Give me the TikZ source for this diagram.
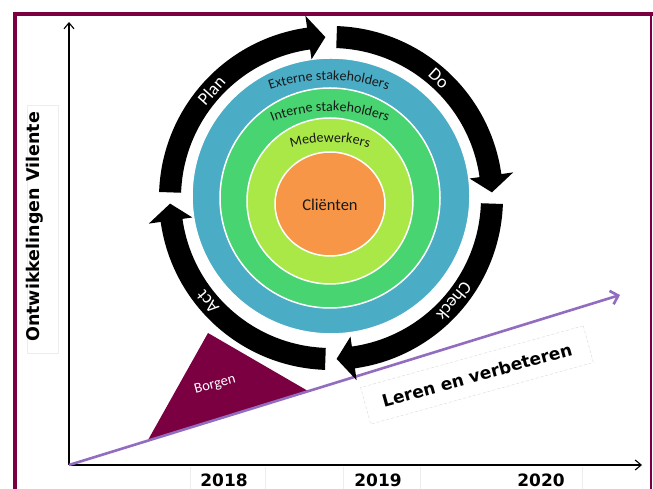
\documentclass[tikz,border=0pt]{standalone}
\usepackage{fontspec}
\setmainfont{Carlito}
\newfontfamily\verd{DejaVu Sans}
\usetikzlibrary{calc,decorations.text,arrows.meta}
\definecolor{maroon}{RGB}{123,0,65}
\definecolor{ringblue}{RGB}{75,172,198}
\definecolor{ringgreen}{RGB}{72,212,112}
\definecolor{ringlime}{RGB}{170,232,72}
\definecolor{ringorange}{RGB}{247,150,70}
\definecolor{lineviolet}{RGB}{146,108,190}
\newcommand\ringfont{\fontsize{14}{14}\selectfont\color{black!90}}
\begin{document}
\begin{tikzpicture}[x=1pt,y=1pt,
  ring/.style={draw=white,line width=1.5pt},
  pdcalabel/.style={text=white,font=\fontsize{18}{18}\selectfont,inner sep=0pt},
  yearlabel/.style={font=\verd\bfseries\fontsize{17}{18}\selectfont},
  axisline/.style={line width=1.1pt,-{Straight Barb[length=6pt,width=10pt]}},
  faint/.style={draw=gray!14,line width=0.8pt},
]
\useasboundingbox (0,0) rectangle (653,489);
\fill[white] (0,0) rectangle (653,489);
% frame
\draw[maroon,line width=4pt] (15,0) -- (15,475) -- (653,475);
\draw[maroon,line width=1.5pt] (651,475) -- (651,0);
% axes
\coordinate (O) at (69,24);
\coordinate (ytop) at (69,467);
\coordinate (xend) at (642,24);
\draw[axisline] (O) -- (ytop);
\draw[axisline] (O) -- (xend);
% table separators
\foreach \x in {190,265,343,420,582} \draw[faint] (\x,22) -- (\x,0);
% year labels
\node[yearlabel] (y2018) at (224,9) {2018};
\node[yearlabel] (y2019) at (378,9) {2019};
\node[yearlabel] (y2020) at (541,9) {2020};
% y label
\draw[faint] (27,136) rectangle (58,384);
\node[rotate=90,font=\verd\bfseries\fontsize{17.5}{18}\selectfont] (ylab) at (35,262) {Ontwikkelingen Vilente};
% Borgen triangle
\coordinate (bt) at (208,156);
\coordinate (bl) at (148,49);
\coordinate (br) at (308,98);
\fill[maroon] (bt) -- (bl) -- (br) -- cycle;
\node[rotate=15,text=white,font=\fontsize{14.5}{15}\selectfont] (borgen) at (215,104) {Borgen};
% purple line
\coordinate (pend) at (620,194);
\draw[lineviolet,line width=2.6pt,-{Straight Barb[length=7pt,width=14pt]}] (O) -- (pend);
% rings
\coordinate (C) at (331,291);
\filldraw[ring,fill=ringblue] (331,293) ellipse [x radius=139pt,y radius=138pt];
\filldraw[ring,fill=ringgreen] (330,291) circle [radius=110pt];
\filldraw[ring,fill=ringlime] (330,288) circle [radius=83pt];
\filldraw[ring,fill=ringorange] (330,285) ellipse [x radius=55pt,y radius=52pt];
\node[font=\fontsize{16.5}{17}\selectfont,text=black!90] (clienten) at (330,284) {Cliënten};
% ring labels
\path[decorate,decoration={text along path,text={|\ringfont|Externe stakeholders},text align=center}]
  (329,230) ++(125:179pt) arc [start angle=125,end angle=55,radius=179pt];
\path[decorate,decoration={text along path,text={|\ringfont|Interne stakeholders},text align=center}]
  (330,220) ++(128:158pt) arc [start angle=128,end angle=52,radius=158pt];
\path[decorate,decoration={text along path,text={|\ringfont|Medewerkers},text align=center}]
  (330,211) ++(125:136pt) arc [start angle=125,end angle=55,radius=136pt];
% PDCA arrows
\foreach \s in {178,88,-2,-92}{
  \pgfmathsetmacro\b{\s-80}
  \pgfmathsetmacro\t{\s-86}
  \fill[black] ($(C)+(\s:172pt)$) arc [start angle=\s,end angle=\b,radius=172pt]
    -- ($(C)+(\b:184pt)$) -- ($(C)+(\t:161pt)$) -- ($(C)+(\b:140pt)$) -- ($(C)+(\b:150pt)$)
    arc [start angle=\b,end angle=\s,radius=150pt] -- cycle;
}
\node[pdcalabel,rotate=48] (plan) at ($(C)+(138:161pt)$) {Plan};
\node[pdcalabel,rotate=-42] (do) at ($(C)+(48:161pt)$) {Do};
\node[pdcalabel,rotate=-130] (check) at ($(C)+(-40:161pt)$) {Check};
\node[pdcalabel,rotate=130] (act) at ($(C)+(220:161pt)$) {Act};
% Leren box
\node[draw=gray!30,densely dashed,fill=white,rotate=15.5,minimum width=231pt,minimum height=38pt,
  font=\verd\bfseries\fontsize{17}{18}\selectfont] (leren) at (477,114) {Leren en verbeteren};
\end{tikzpicture}
\end{document}
